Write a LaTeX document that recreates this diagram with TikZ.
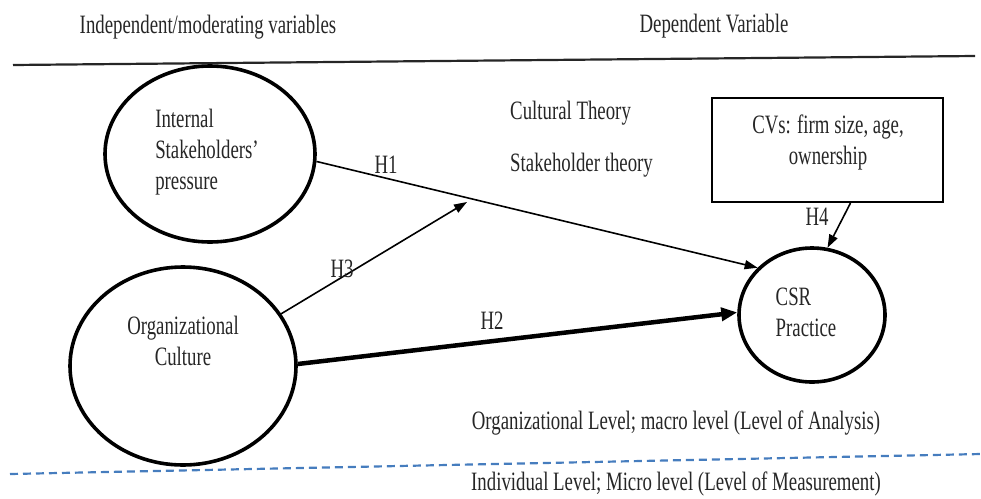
\documentclass[tikz,border=0pt]{standalone}
\usepackage{fontspec}
\setmainfont[FakeStretch=0.71]{Liberation Serif}
\usetikzlibrary{shapes.geometric,arrows.meta}
\begin{document}
\begin{tikzpicture}[x=1pt,y=-1pt,
  every node/.style={font=\fontsize{26.5}{31}\selectfont, text=black!85},
  oval/.style={draw, ellipse, line width=3.6pt, inner sep=0pt},
  lbl/.style={inner sep=0pt},
  hyp/.style={line width=1.6pt, -{Triangle[length=13pt,width=9pt]}},
  hypthick/.style={line width=4.5pt, -{Triangle[length=16pt,width=13pt]}}]
\useasboundingbox (0,0) rectangle (981,498);
% header
\node[lbl] (hind) at (208,27) {Independent/moderating variables};
\node[lbl] (hdep) at (714,26) {Dependent Variable};
\coordinate (tl) at (13,65);
\coordinate (tr) at (975,56);
\draw[line width=2.2pt, black!85] (tl) -- (tr);
% ellipses
\node[oval, minimum width=210pt, minimum height=176pt] (isp) at (210,154) {};
\node[lbl, align=left] (isptext) at (207,152) {Internal\\Stakeholders'\\pressure};
\node[oval, minimum width=226pt, minimum height=198pt] (oc) at (183,366) {};
\node[lbl, align=center] (octext) at (183,341) {Organizational\\Culture};
\node[oval, minimum width=146pt, minimum height=134pt] (csr) at (812,315) {};
\node[lbl, align=left] (csrtext) at (806,312) {CSR\\Practice};
% box
\node[draw, line width=2pt, minimum width=231pt, minimum height=104pt, inner sep=0pt] (cv) at (827.5,150) {};
\node[lbl, align=center] (cvtext) at (828,142) {CVs: firm size, age,\\ownership};
% theories
\node[lbl, anchor=west] (ct) at (510,113) {Cultural Theory};
\node[lbl, anchor=west] (st) at (510,165) {Stakeholder theory};
% arrows
\coordinate (h3end) at (467,202);
\draw[hyp] (isp.-4) -- (csr.139);
\draw[hyp] (oc.28) -- (h3end);
\draw[hypthick] (oc.1) -- (csr.178);
\draw[hyp] ([xshift=23pt]cv.south) -- (csr.77);
\node[lbl] (h1) at (386,165) {H1};
\node[lbl] (h3) at (342,269) {H3};
\node[lbl] (h2) at (492,321) {H2};
\node[lbl] (h4) at (817,217) {H4};
% levels
\node[lbl] (orgl) at (676,423) {Organizational Level; macro level (Level of Analysis)};
\coordinate (dl) at (10,474);
\coordinate (dr) at (981,454);
\draw[line width=2.2pt, color={rgb,255:red,70;green,125;blue,190}, dash pattern=on 8pt off 5pt] (dl) -- (dr);
\node[lbl] (indl) at (676,484) {Individual Level; Micro level (Level of Measurement)};
\end{tikzpicture}
\end{document}
